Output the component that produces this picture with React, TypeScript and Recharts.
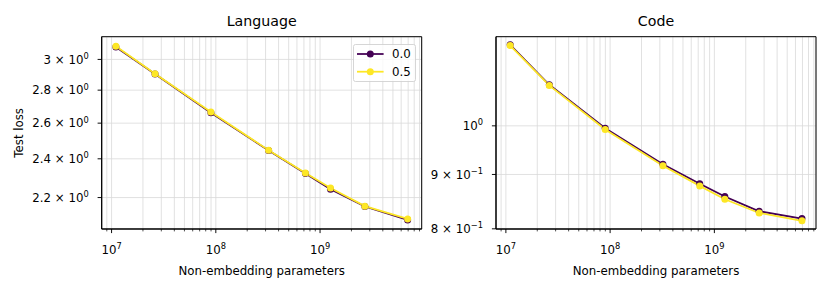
import { LineChart, Line, XAxis, YAxis, CartesianGrid, Legend, ReferenceArea } from 'recharts'

// model sizes (non-embedding params), shared by both panels
const params = [1.1e7, 2.61e7, 8.97e7, 3.21e8, 7.24e8, 1.26e9, 2.69e9, 6.92e9]

// test loss, language
const langLoss00 = [3.085, 2.903, 2.662, 2.445, 2.322, 2.242, 2.156, 2.092]
const langLoss05 = [3.09, 2.905, 2.666, 2.447, 2.325, 2.248, 2.158, 2.097]

// test loss, code
const codeLoss00 = [1.192, 1.093, 0.995, 0.92, 0.882, 0.858, 0.831, 0.818]
const codeLoss05 = [1.19, 1.0915, 0.992, 0.917, 0.878, 0.853, 0.828, 0.814]

const seriesNames = ['0.0', '0.5']
const seriesColors = ['#440154', '#fde725']

// log ticks on x (majors get a label)
const xTicks = [
  9e6,
  1e7, 2e7, 3e7, 4e7, 5e7, 6e7, 7e7, 8e7, 9e7,
  1e8, 2e8, 3e8, 4e8, 5e8, 6e8, 7e8, 8e8, 9e8,
  1e9, 2e9, 3e9, 4e9, 5e9, 6e9, 7e9, 8e9, 9e9,
]
const xDomain = [8.04e6, 9.44e9]

const langYTicks = [2.2, 2.4, 2.6, 2.8, 3]
const langYTickLabels = ['2.2 × 10^0', '2.4 × 10^0', '2.6 × 10^0', '2.8 × 10^0', '3 × 10^0']
const langYDomain = [2.05, 3.157]

const codeYTicks = [0.8, 0.9, 1.0]
const codeYTickLabels = ['8 × 10^−1', '9 × 10^−1', '10^0']
const codeYDomain = [0.7997, 1.213]

const FONT = '"DejaVu Sans", sans-serif'
const FS = 11.8

const XTick = (props: any) => {
  const { x, y, payload } = props
  const e = Math.log10(payload.value)
  const major = Math.abs(e - Math.round(e)) < 1e-6
  return (
    <g>
      <line x1={x} x2={x} y1={y} y2={y + (major ? 4.1 : 2.4)} stroke="#000" strokeWidth={major ? 0.95 : 0.7} />
      {major && (
        <text x={x} y={y + 25} textAnchor="middle" fontSize={FS} fontFamily={FONT} fill="#000">
          10<tspan dy={-4.8} fontSize={8.3}>{Math.round(e)}</tspan>
        </text>
      )}
    </g>
  )
}

const makeYTick = (ticks: number[], labels: string[]) => (props: any) => {
  const { x, y, payload } = props
  const i = ticks.findIndex(t => Math.abs(t - payload.value) < 1e-9)
  const [base, exp] = (labels[i] ?? '').split('^')
  return (
    <g>
      <line x1={x - 4.1} x2={x} y1={y} y2={y} stroke="#000" strokeWidth={0.95} />
      <text x={x - 13} y={y + 4.2} textAnchor="end" fontSize={FS} fontFamily={FONT} fill="#000">
        {base}<tspan dy={-4.8} fontSize={8.3}>{exp}</tspan>
      </text>
    </g>
  )
}

const LegendBox = () => (
  <svg width={63} height={38} style={{ display: 'block', overflow: 'visible' }}>
    <rect x={0.5} y={0.5} width={62} height={37} rx={2} fill="#fff" fillOpacity={0.8} stroke="#cccccc" strokeWidth={0.8} />
    {seriesNames.map((n, i) => {
      const cy = 10 + i * 17.7
      return (
        <g key={n}>
          <line x1={4} x2={30.6} y1={cy} y2={cy} stroke={seriesColors[i]} strokeWidth={1.77} />
          <circle cx={17.3} cy={cy} r={3.5} fill={seriesColors[i]} />
          <text x={39} y={cy + 4.2} fontSize={FS} fontFamily={FONT} fill="#000">{n}</text>
        </g>
      )
    })}
  </svg>
)

function Panel({
  left, yw, width, title, loss00, loss05, yTicks, yTickLabels, yDomain, yLabel, legend,
}: {
  left: number; yw: number; width: number; title: string
  loss00: number[]; loss05: number[]
  yTicks: number[]; yTickLabels: string[]; yDomain: number[]
  yLabel?: string; legend?: boolean
}) {
  const data = params.map((p, i) => ({ x: p, a: loss00[i], b: loss05[i] }))
  const YTick = makeYTick(yTicks, yTickLabels)
  return (
    <div style={{ position: 'absolute', left, top: 0 }}>
      <LineChart width={width} height={292} data={data}
        margin={{ top: 36.7, right: width - yw - 320, bottom: 23, left: 0 }}>
        <CartesianGrid stroke="#d9d9d9" strokeWidth={0.8} />
        <XAxis dataKey="x" type="number" scale="log" domain={xDomain} allowDataOverflow
          ticks={xTicks} interval={0} tick={<XTick />} tickLine={false} tickSize={0} tickMargin={0}
          height={40} axisLine={{ stroke: '#000', strokeWidth: 1 }}
          label={{
            content: (p: any) => (
              <text x={p.viewBox.x + p.viewBox.width / 2} y={275} textAnchor="middle"
                fontSize={FS} fontFamily={FONT} fill="#000">Non-embedding parameters</text>
            ),
          }} />
        <YAxis type="number" scale="log" domain={yDomain} allowDataOverflow ticks={yTicks} interval={0}
          width={yw} tick={<YTick />} tickLine={false} tickSize={0} tickMargin={0}
          axisLine={{ stroke: '#000', strokeWidth: 1 }}
          label={yLabel ? {
            content: (p: any) => (
              <text x={23} y={p.viewBox.y + p.viewBox.height / 2} textAnchor="middle"
                transform={`rotate(-90 23 ${p.viewBox.y + p.viewBox.height / 2})`}
                fontSize={FS} fontFamily={FONT} fill="#000">{yLabel}</text>
            ),
          } : undefined} />
        {/* axes frame + title */}
        <ReferenceArea x1={xDomain[0]} x2={xDomain[1]} y1={yDomain[0]} y2={yDomain[1]}
          fill="none" stroke="#000" strokeWidth={1} ifOverflow="visible"
          label={{
            content: (p: any) => (
              <text x={p.viewBox.x + p.viewBox.width / 2} y={26} textAnchor="middle"
                fontSize={14.2} fontFamily={FONT} fill="#000">{title}</text>
            ),
          }} />
        <Line dataKey="a" type="linear" stroke={seriesColors[0]} strokeWidth={1.77}
          dot={{ r: 3.5, fill: seriesColors[0], stroke: 'none' }} activeDot={false} isAnimationActive={false} />
        <Line dataKey="b" type="linear" stroke={seriesColors[1]} strokeWidth={1.77}
          dot={{ r: 3.5, fill: seriesColors[1], stroke: 'none' }} activeDot={false} isAnimationActive={false} />
        {legend && (
          <Legend layout="horizontal" verticalAlign="middle" align="center" content={() => <LegendBox />}
            wrapperStyle={{ left: 352.7, top: 44, width: 63, height: 38 }} />
        )}
      </LineChart>
    </div>
  )
}

export default function App() {
  return (
    <div style={{ position: 'absolute', left: 0, top: 0, width: 830, height: 292, background: '#fff', overflow: 'hidden' }}>
      <Panel left={0} yw={101.7} width={427.7} title="Language" loss00={langLoss00} loss05={langLoss05}
        yTicks={langYTicks} yTickLabels={langYTickLabels} yDomain={langYDomain} yLabel="Test loss" legend />
      <Panel left={425.7} yw={70} width={398} title="Code" loss00={codeLoss00} loss05={codeLoss05}
        yTicks={codeYTicks} yTickLabels={codeYTickLabels} yDomain={codeYDomain} />
    </div>
  )
}
